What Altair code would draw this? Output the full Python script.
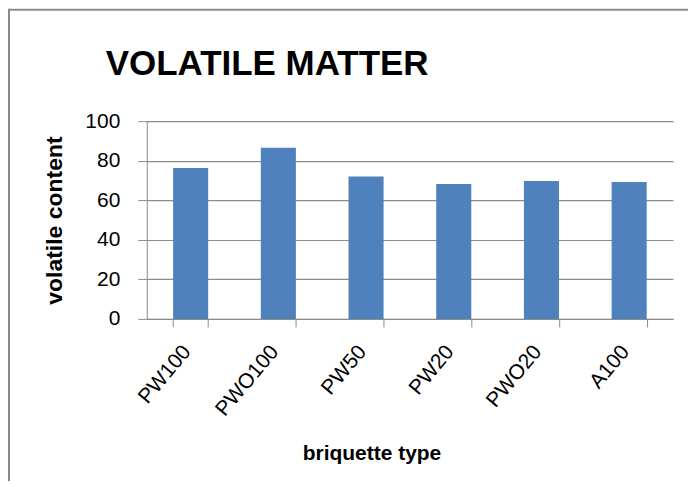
import altair as alt
import pandas as pd

categories = ["PW100", "PWO100", "PW50", "PW20", "PWO20", "A100"]
volatile = [76.3, 86.5, 72.0, 68.2, 69.8, 69.3]
y_ticks = [0, 20, 40, 60, 80, 100]
chart_title = "VOLATILE MATTER"

df = pd.DataFrame({"type": categories, "value": volatile})
frame_df = pd.DataFrame({"a": [0]})

GRID = "#8C8C8C"
FONT = "Liberation Sans"

bars = alt.Chart(df).mark_bar(color="#4F81BD").encode(
    x=alt.X(
        "type:N",
        sort=categories,
        scale=alt.Scale(paddingInner=0.6, paddingOuter=0.3),
        axis=alt.Axis(
            title="briquette type",
            labelAngle=-50,
            labelFontSize=21,
            labelFont=FONT,
            labelColor="#000000",
            labelPadding=21,
            labelOffset=-4,
            tickBand="extent",
            tickSize=8,
            tickColor=GRID,
            domainColor=GRID,
            titleFontSize=21,
            titleFont=FONT,
            titleFontWeight="bold",
            titleColor="#000000",
            titleX=225,
            titleY=141,
            titleBaseline="alphabetic",
            titleAlign="center",
        ),
    ),
    y=alt.Y(
        "value:Q",
        scale=alt.Scale(domain=[0, 100]),
        axis=alt.Axis(
            title="volatile content",
            values=y_ticks,
            labelFontSize=21,
            labelFont=FONT,
            labelColor="#000000",
            labelPadding=18,
            tickSize=9,
            tickColor=GRID,
            domainColor=GRID,
            gridColor=GRID,
            gridWidth=1.2,
            titleFontSize=23,
            titleFont=FONT,
            titleFontWeight="bold",
            titleColor="#000000",
            titlePadding=18,
        ),
    ),
)

title_text = alt.Chart(frame_df).mark_text(
    text=chart_title,
    font=FONT,
    fontSize=35,
    fontWeight="bold",
    color="#000000",
    align="center",
    baseline="alphabetic",
).encode(x=alt.value(267.5 - 147), y=alt.value(75 - 121))

top_rule = alt.Chart(frame_df).mark_rule(color="#8A8A8A", strokeWidth=2).encode(
    x=alt.value(-138), x2=alt.value(560), y=alt.value(-111.5)
)
left_rule = alt.Chart(frame_df).mark_rule(color="#8A8A8A", strokeWidth=2).encode(
    x=alt.value(-138), y=alt.value(-112.5), y2=alt.value(400)
)

chart = alt.layer(bars, title_text, top_rule, left_rule).properties(
    width=527,
    height=198,
    autosize=alt.AutoSizeParams(type="none"),
    padding={"left": 139, "top": 113, "right": 15, "bottom": 162},
).configure_view(stroke=None).configure_axis(grid=False).configure_axisY(grid=True)

chart.save("out.html", embed_options={"renderer": "svg", "actions": False})
